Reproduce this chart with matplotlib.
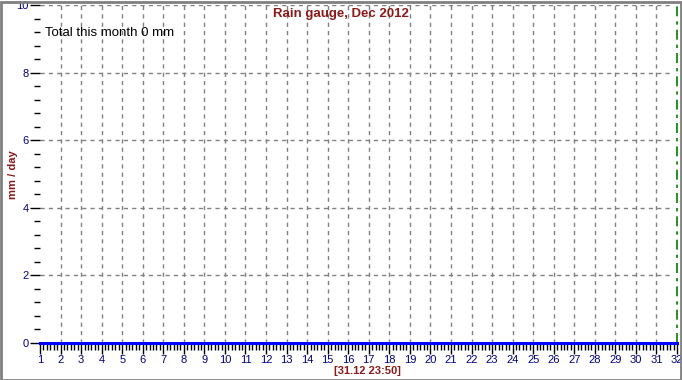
import numpy as np
import matplotlib.pyplot as plt
from matplotlib.ticker import MultipleLocator
from matplotlib.patches import Rectangle

plt.rcParams['font.family'] = ['Liberation Sans', 'DejaVu Sans']

days = list(range(1, 32))
rain = [0] * 31
total = sum(rain)
title = 'Rain gauge, Dec 2012'
stamp = '[31.12 23:50]'

W, H = 682, 380
fig = plt.figure(figsize=(W / 100, H / 100), dpi=100)
ax = fig.add_axes([40 / W, (H - 343) / H, (677 - 40) / W, (343 - 5) / H])

# daily bars (all zero this month)
ax.bar(np.array(days) + 0.5, rain, width=0.8, color='#4040ff')

ax.set_xlim(1, 32)
ax.set_ylim(0, 10)
for s in ax.spines.values():
    s.set_visible(False)
ax.axhline(0, color='#0000ff', lw=2.2, zorder=5, clip_on=False)
ax.axvline(32, color='#008000', lw=1.2, ls=(0, (6, 3, 2, 3)), clip_on=False)

ax.xaxis.set_major_locator(MultipleLocator(1))
ax.xaxis.set_minor_locator(MultipleLocator(1 / 6))
ax.yaxis.set_major_locator(MultipleLocator(2))
ax.yaxis.set_minor_locator(MultipleLocator(0.4))
ax.tick_params(axis='x', which='major', length=8, width=1, color='black',
               labelsize=8, labelcolor='#000080', pad=0.5)
ax.tick_params(axis='x', which='minor', length=5, width=1, color='black')
ax.tick_params(axis='y', which='major', length=7, width=1, color='black',
               labelsize=8, labelcolor='#000080', pad=1)
ax.tick_params(axis='y', which='minor', length=4, width=1, color='black')

for d in range(2, 32):
    ax.axvline(d, color='#808080', lw=1, ls=(0, (3, 3)), zorder=0)
for v in range(2, 11, 2):
    ax.axhline(v, xmax=(31.8 - 1) / 31, color='#808080', lw=1, ls=(0, (3, 3)), zorder=0)

fig.text(45 / W, 1 - 33 / H, f'Total this month {total} mm',
         fontsize=9.5, color='black', va='center', ha='left')
fig.text(341 / W, 1 - 14 / H, title, fontsize=9.5, fontweight='bold',
         color='#8b1a1a', ha='center', va='center')
fig.text(13 / W, 1 - 175 / H, 'mm / day', fontsize=8, fontweight='bold',
         color='#8b1a1a', ha='center', va='center', rotation=90)
fig.text(367 / W, 1 - 371.5 / H, stamp, fontsize=8, fontweight='bold',
         color='#8b1a1a', ha='center', va='center')

fig.patches.append(Rectangle((0.5 / W, 0.5 / H), 1 - 2 / W, 1 - 2 / H,
                             transform=fig.transFigure, fill=False,
                             edgecolor='#808080', lw=2))

fig.savefig('out.png', dpi=100)
